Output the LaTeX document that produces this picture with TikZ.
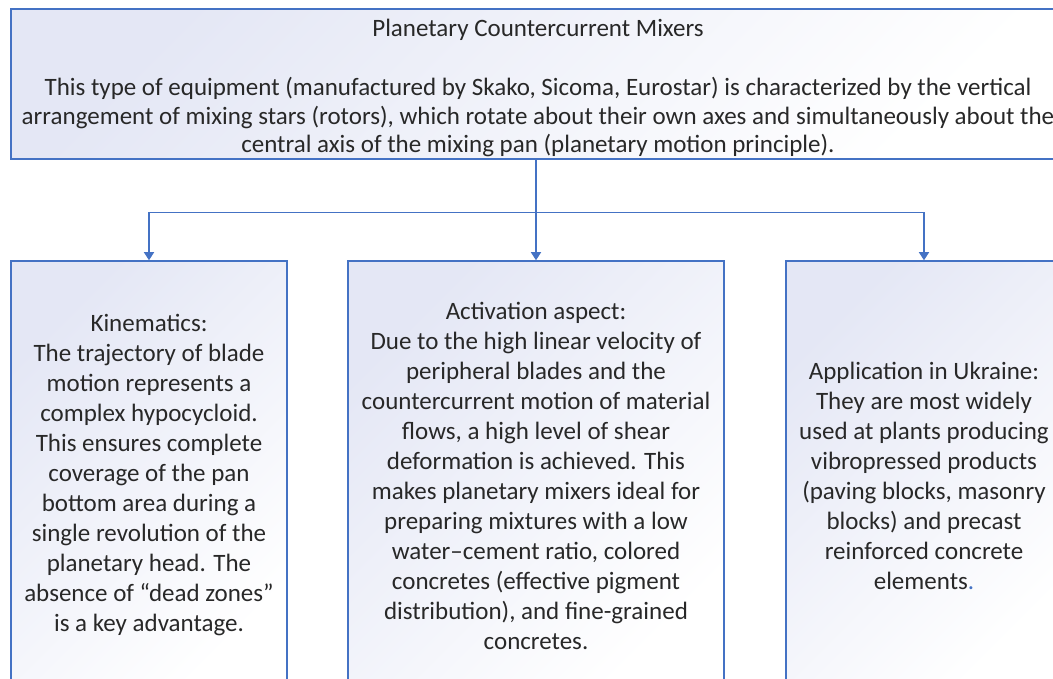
\documentclass[tikz,border=0pt]{standalone}
\usepackage{fontspec}
\setmainfont{Carlito}
\usetikzlibrary{arrows.meta}
\definecolor{edge}{RGB}{68,114,196}
\definecolor{tint}{RGB}{228,231,245}
\definecolor{ink}{RGB}{40,40,40}
\begin{document}
\begin{tikzpicture}[x=1pt,y=-1pt,
  txt/.style={align=center, text=ink, font=\fontsize{25}{30}\selectfont, inner sep=0pt},
  box/.style={draw=edge, line width=1.5pt, rectangle, inner sep=0pt,
    top color=tint, bottom color=white, shading angle=45, txt},
  arr/.style={draw=edge, line width=1.5pt, -{Triangle[width=10pt,length=8pt]}}]
\useasboundingbox (0,0) rectangle (1053,679);
\clip (0,0) rectangle (1053,679);
\node[box, minimum width=1050pt, minimum height=150pt] (top) at (536,84) {};
\node[txt, font=\fontsize{25}{28.5}\selectfont] (toptext) at (538,88)
  {Planetary Countercurrent Mixers\\[31pt]
   This type of equipment (manufactured by Skako, Sicoma, Eurostar) is characterized by the vertical\\
   arrangement of mixing stars (rotors), which rotate about their own axes and simultaneously about the\\
   central axis of the mixing pan (planetary motion principle).};
\node[box, minimum width=276pt, minimum height=429pt] (left) at (149,475.5)
  {Kinematics:\\
   The trajectory of blade\\
   motion represents a\\
   complex hypocycloid.\\
   This ensures complete\\
   coverage of the pan\\
   bottom area during a\\
   single revolution of the\\
   planetary head. The\\
   absence of “dead zones”\\
   is a key advantage.};
\node[box, minimum width=376pt, minimum height=429pt] (mid) at (536,475.5)
  {Activation aspect:\\
   Due to the high linear velocity of\\
   peripheral blades and the\\
   countercurrent motion of material\\
   flows, a high level of shear\\
   deformation is achieved. This\\
   makes planetary mixers ideal for\\
   preparing mixtures with a low\\
   water–cement ratio, colored\\
   concretes (effective pigment\\
   distribution), and fine-grained\\
   concretes.};
\node[box, minimum width=276pt, minimum height=429pt] (right) at (924,475.5)
  {Application in Ukraine:\\
   They are most widely\\
   used at plants producing\\
   vibropressed products\\
   (paving blocks, masonry\\
   blocks) and precast\\
   reinforced concrete\\
   elements{\color{edge}.}};
\draw[arr] (top.south) -- (mid.north);
\draw[arr] (top.south) -- ++(0,53) -| (left.north);
\draw[arr] (top.south) -- ++(0,53) -| (right.north);
\end{tikzpicture}
\end{document}
